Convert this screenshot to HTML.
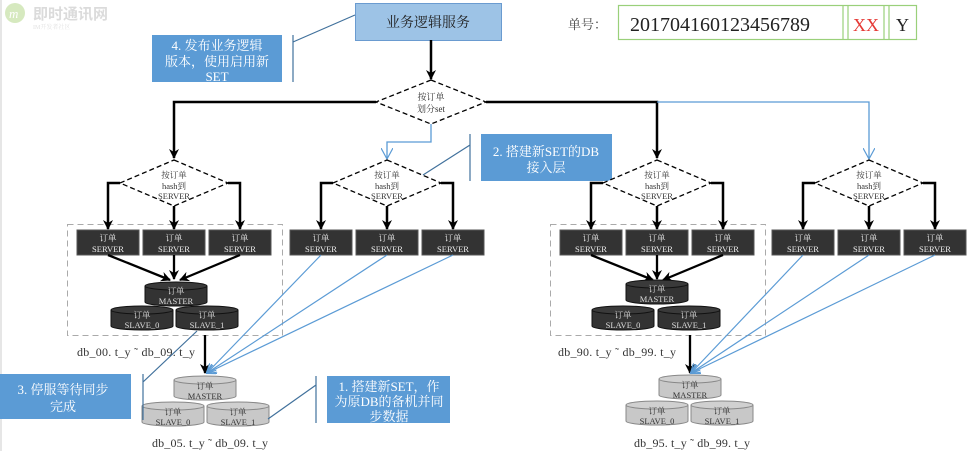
<!DOCTYPE html>
<html><head><meta charset="utf-8"><style>
body{margin:0;background:#fff;}
svg{display:block;font-family:"Liberation Serif","Noto Serif CJK SC",serif;}
</style></head><body>
<svg width="970" height="451" viewBox="0 0 970 451" xmlns="http://www.w3.org/2000/svg">
<defs>
<marker id="ab" markerWidth="10" markerHeight="10" refX="9" refY="5" orient="auto" markerUnits="userSpaceOnUse" viewBox="0 0 10 10"><path d="M0,0 L10,5 L0,10 L3,5z" fill="#000"/></marker>
<marker id="ablue" markerWidth="12" markerHeight="12" refX="11" refY="6" orient="auto" markerUnits="userSpaceOnUse" viewBox="0 0 12 12"><path d="M0,0 L11,6 L0,12" fill="none" stroke="#5b9bd5" stroke-width="1.2"/></marker>
<marker id="ablue2" markerWidth="10" markerHeight="10" refX="9" refY="5" orient="auto" markerUnits="userSpaceOnUse" viewBox="0 0 10 10"><path d="M0,0 L10,5 L0,10" fill="none" stroke="#5b9bd5" stroke-width="1.2"/></marker>
</defs>
<rect x="0.5" y="0" width="1" height="451" fill="#ccc"/>
<g opacity="0.35"><circle cx="15" cy="13" r="10" fill="#8bc34a"/><text x="9" y="18" font-size="13" fill="#fff" font-style="italic">m</text>
<text x="33" y="19" font-size="15" fill="#999" font-family="Liberation Sans,Noto Sans CJK SC,sans-serif" font-weight="bold">即时通讯网</text>
<text x="33" y="29" font-size="6" fill="#aaa">IM开发者社区</text></g>

<rect x="355.5" y="3.5" width="146" height="37" fill="#9dc3e6" stroke="#6a9bd0"/>
<text x="428" y="27" font-size="14" text-anchor="middle" fill="#222">业务逻辑服务</text>
<rect x="152" y="35" width="130" height="47" fill="#5b9bd5"/>
<g font-size="13" fill="#fff" text-anchor="middle"><text x="217" y="50">4. 发布业务逻辑</text><text x="217" y="66">版本，使用启用新</text><text x="217" y="81">SET</text></g>
<path d="M293,35 V82 M293,42 L355,15" stroke="#41719c" stroke-width="1.2" fill="none"/>

<text x="568" y="29" font-size="13" fill="#444">单号：</text>
<rect x="618.5" y="5.5" width="298" height="34" fill="none" stroke="#9ad07a" stroke-width="1.2"/>
<path d="M843,5 V40 M848,5 V40 M884,5 V40 M889,5 V40" stroke="#9ad07a" stroke-width="1.2"/>
<text x="630" y="31" font-size="20" fill="#222">201704160123456789</text>
<text x="853" y="31" font-size="18" fill="#e53935">XX</text>
<text x="896" y="31" font-size="18" fill="#222">Y</text>

<path d="M431,40 V79" stroke="#000" stroke-width="2.5" marker-end="url(#ab)"/>
<path d="M376,102 H174 V158" stroke="#000" stroke-width="2.5" fill="none" marker-end="url(#ab)"/>
<path d="M486,102 H657 V158" stroke="#000" stroke-width="2.5" fill="none" marker-end="url(#ab)"/>
<path d="M657,102 H869 V159" stroke="#5b9bd5" stroke-width="1.3" fill="none" marker-end="url(#ablue)"/>
<path d="M431,124 V142 H387 V159" stroke="#5b9bd5" stroke-width="1.3" fill="none" marker-end="url(#ablue)"/>
<polygon points="431,80 486,102 431,124 376,102" fill="#fff" stroke="#000" stroke-width="1.3" stroke-dasharray="5,3"/>
<text x="431" y="100" font-size="9" text-anchor="middle" fill="#333">按订单</text>
<text x="431" y="112" font-size="9" text-anchor="middle" fill="#333">划分set</text>

<rect x="481" y="134" width="131" height="47" fill="#5b9bd5"/>
<g font-size="13" fill="#fff" text-anchor="middle"><text x="546" y="156">2. 搭建新SET的DB</text><text x="546" y="172">接入层</text></g>
<path d="M470,134 V181 M470,145 L423,175" stroke="#41719c" stroke-width="1.2" fill="none"/>

<rect x="67.5" y="224.5" width="215" height="111" fill="none" stroke="#aaa" stroke-dasharray="6,4"/>
<rect x="550.5" y="224.5" width="215" height="111" fill="none" stroke="#aaa" stroke-dasharray="6,4"/>

<g stroke="#000" stroke-width="2.5" fill="none">
<path d="M120,183 H108 V229" marker-end="url(#ab)"/><path d="M174,206 V229" marker-end="url(#ab)"/><path d="M228,183 H240 V229" marker-end="url(#ab)"/>
<path d="M333,183 H321 V229" marker-end="url(#ab)"/><path d="M387,206 V229" marker-end="url(#ab)"/><path d="M441,183 H453 V229" marker-end="url(#ab)"/>
<path d="M603,183 H591 V229" marker-end="url(#ab)"/><path d="M657,206 V229" marker-end="url(#ab)"/><path d="M711,183 H723 V229" marker-end="url(#ab)"/>
<path d="M815,183 H803 V229" marker-end="url(#ab)"/><path d="M869,206 V229" marker-end="url(#ab)"/><path d="M923,183 H935 V229" marker-end="url(#ab)"/>
</g>
<g fill="#fff" stroke="#000" stroke-width="1.3" stroke-dasharray="5,3">
<polygon points="174,160 228,183 174,206 120,183"/>
<polygon points="387,160 441,183 387,206 333,183"/>
<polygon points="657,160 711,183 657,206 603,183"/>
<polygon points="869,160 923,183 869,206 815,183"/>
</g>
<g font-size="8.5" text-anchor="middle" fill="#333">
<text x="174" y="178">按订单</text><text x="174" y="189">hash到</text><text x="174" y="199">SERVER</text>
<text x="387" y="178">按订单</text><text x="387" y="189">hash到</text><text x="387" y="199">SERVER</text>
<text x="657" y="178">按订单</text><text x="657" y="189">hash到</text><text x="657" y="199">SERVER</text>
<text x="869" y="178">按订单</text><text x="869" y="189">hash到</text><text x="869" y="199">SERVER</text>
</g>

<g fill="#333" stroke="#555">
<rect x="77" y="230" width="62" height="25"/><rect x="143" y="230" width="62" height="25"/><rect x="209" y="230" width="62" height="25"/>
<rect x="290" y="230" width="62" height="25"/><rect x="356" y="230" width="62" height="25"/><rect x="422" y="230" width="62" height="25"/>
<rect x="560" y="230" width="62" height="25"/><rect x="626" y="230" width="62" height="25"/><rect x="692" y="230" width="62" height="25"/>
<rect x="772" y="230" width="62" height="25"/><rect x="838" y="230" width="62" height="25"/><rect x="904" y="230" width="62" height="25"/>
</g>
<g font-size="8.5" text-anchor="middle" fill="#eee">
<text x="108" y="241">订单</text><text x="108" y="252">SERVER</text>
<text x="174" y="241">订单</text><text x="174" y="252">SERVER</text>
<text x="240" y="241">订单</text><text x="240" y="252">SERVER</text>
<text x="321" y="241">订单</text><text x="321" y="252">SERVER</text>
<text x="387" y="241">订单</text><text x="387" y="252">SERVER</text>
<text x="453" y="241">订单</text><text x="453" y="252">SERVER</text>
<text x="591" y="241">订单</text><text x="591" y="252">SERVER</text>
<text x="657" y="241">订单</text><text x="657" y="252">SERVER</text>
<text x="723" y="241">订单</text><text x="723" y="252">SERVER</text>
<text x="803" y="241">订单</text><text x="803" y="252">SERVER</text>
<text x="869" y="241">订单</text><text x="869" y="252">SERVER</text>
<text x="935" y="241">订单</text><text x="935" y="252">SERVER</text>
</g>

<g stroke="#000" stroke-width="2.3" fill="none">
<path d="M108,255 L170,280" marker-end="url(#ab)"/><path d="M174,255 V279" marker-end="url(#ab)"/><path d="M240,255 L180,280" marker-end="url(#ab)"/>
<path d="M591,255 L653,280" marker-end="url(#ab)"/><path d="M657,255 V279" marker-end="url(#ab)"/><path d="M723,255 L663,280" marker-end="url(#ab)"/>
<path d="M205,335 V373" marker-end="url(#ab)"/><path d="M690,335 V373" marker-end="url(#ab)"/>
</g>

<g stroke="#111" stroke-width="1">
<path d="M145,286 v16 a31,4 0 0 0 62,0 v-16" fill="#333"/><ellipse cx="176" cy="286" rx="31" ry="4" fill="#3a3a3a"/>
<path d="M111,310 v16 a31,4 0 0 0 62,0 v-16" fill="#333"/><ellipse cx="142" cy="310" rx="31" ry="4" fill="#3a3a3a"/>
<path d="M176,310 v16 a31,4 0 0 0 62,0 v-16" fill="#333"/><ellipse cx="207" cy="310" rx="31" ry="4" fill="#3a3a3a"/>
<path d="M626,284 v16 a31,4 0 0 0 62,0 v-16" fill="#333"/><ellipse cx="657" cy="284" rx="31" ry="4" fill="#3a3a3a"/>
<path d="M592,310 v16 a31,4 0 0 0 62,0 v-16" fill="#333"/><ellipse cx="623" cy="310" rx="31" ry="4" fill="#3a3a3a"/>
<path d="M658,310 v16 a31,4 0 0 0 62,0 v-16" fill="#333"/><ellipse cx="689" cy="310" rx="31" ry="4" fill="#3a3a3a"/>
</g>
<g stroke="#888" stroke-width="1">
<path d="M174,380 v16 a31,4 0 0 0 62,0 v-16" fill="#c8c8c8"/><ellipse cx="205" cy="380" rx="31" ry="4" fill="#d0d0d0"/>
<path d="M142,406 v16 a31,4 0 0 0 62,0 v-16" fill="#c8c8c8"/><ellipse cx="173" cy="406" rx="31" ry="4" fill="#d0d0d0"/>
<path d="M207,406 v16 a31,4 0 0 0 62,0 v-16" fill="#c8c8c8"/><ellipse cx="238" cy="406" rx="31" ry="4" fill="#d0d0d0"/>
<path d="M659,379 v16 a31,4 0 0 0 62,0 v-16" fill="#c8c8c8"/><ellipse cx="690" cy="379" rx="31" ry="4" fill="#d0d0d0"/>
<path d="M626,405 v16 a31,4 0 0 0 62,0 v-16" fill="#c8c8c8"/><ellipse cx="657" cy="405" rx="31" ry="4" fill="#d0d0d0"/>
<path d="M691,405 v16 a31,4 0 0 0 62,0 v-16" fill="#c8c8c8"/><ellipse cx="722" cy="405" rx="31" ry="4" fill="#d0d0d0"/>
</g>
<g font-size="8.5" text-anchor="middle">
<g fill="#ddd">
<text x="176" y="294">订单</text><text x="176" y="304">MASTER</text>
<text x="142" y="318">订单</text><text x="142" y="328">SLAVE_0</text>
<text x="207" y="318">订单</text><text x="207" y="328">SLAVE_1</text>
<text x="657" y="292">订单</text><text x="657" y="302">MASTER</text>
<text x="623" y="318">订单</text><text x="623" y="328">SLAVE_0</text>
<text x="689" y="318">订单</text><text x="689" y="328">SLAVE_1</text>
</g>
<g fill="#333">
<text x="205" y="389">订单</text><text x="205" y="399">MASTER</text>
<text x="173" y="415">订单</text><text x="173" y="425">SLAVE_0</text>
<text x="238" y="415">订单</text><text x="238" y="425">SLAVE_1</text>
<text x="690" y="388">订单</text><text x="690" y="398">MASTER</text>
<text x="657" y="414">订单</text><text x="657" y="424">SLAVE_0</text>
<text x="722" y="414">订单</text><text x="722" y="424">SLAVE_1</text>
</g></g>

<g stroke="#5b9bd5" stroke-width="1.2" fill="none">
<path d="M321,255 L207,373" marker-end="url(#ablue2)"/><path d="M387,255 L207,373" marker-end="url(#ablue2)"/><path d="M453,255 L207,373" marker-end="url(#ablue2)"/>
<path d="M803,255 L691,373" marker-end="url(#ablue2)"/><path d="M869,255 L691,373" marker-end="url(#ablue2)"/><path d="M935,255 L691,373" marker-end="url(#ablue2)"/>
</g>

<g font-size="12" fill="#333">
<text x="77" y="356" textLength="118">db_00. t_y ˜ db_09. t_y</text>
<text x="152" y="447" textLength="116">db_05. t_y ˜ db_09. t_y</text>
<text x="558" y="356" textLength="118">db_90. t_y ˜ db_99. t_y</text>
<text x="634" y="447" textLength="116">db_95. t_y ˜ db_99. t_y</text>
</g>

<rect x="0" y="374" width="131" height="45" fill="#5b9bd5"/>
<g font-size="13" fill="#fff" text-anchor="middle"><text x="63" y="394">3. 停服等待同步</text><text x="63" y="411">完成</text></g>
<path d="M143,374 V420 M143,382 L197,331" stroke="#41719c" stroke-width="1.2" fill="none"/>
<rect x="327" y="376" width="123" height="47" fill="#5b9bd5"/>
<g font-size="13" fill="#fff" text-anchor="middle"><text x="389" y="391">1. 搭建新SET，作</text><text x="389" y="406">为原DB的备机并同</text><text x="389" y="421">步数据</text></g>
<path d="M316,376 V423 M316,385 L268,419" stroke="#41719c" stroke-width="1.2" fill="none"/>
</svg>
</body></html>
